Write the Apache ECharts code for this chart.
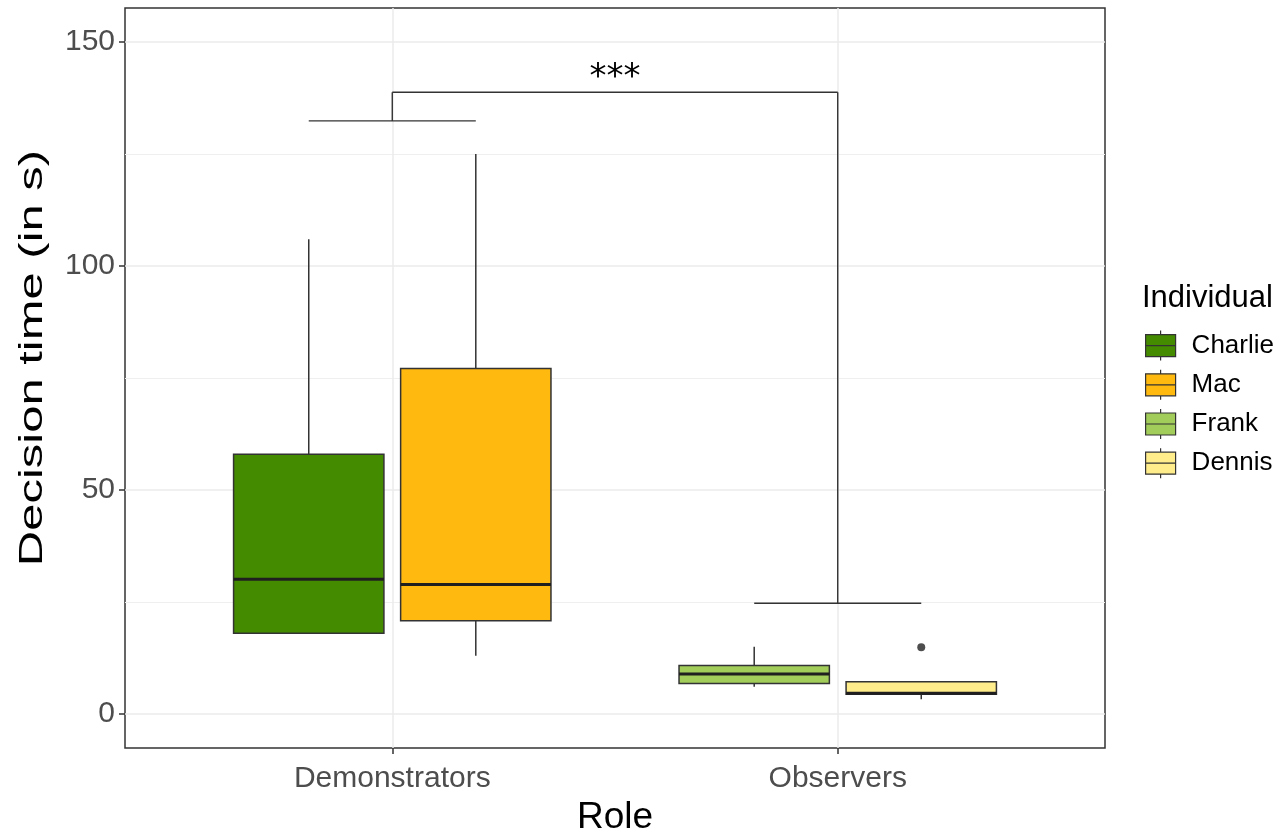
<!DOCTYPE html>
<html>
<head>
<meta charset="utf-8">
<script src="https://cdn.jsdelivr.net/npm/echarts@6/dist/echarts.min.js"></script>
<style>
  html, body { margin: 0; padding: 0; background: #ffffff; }
  #chart { width: 1286px; height: 837px; }
</style>
</head>
<body>
<div id="chart"></div>
<script>
// Roles on the x axis and the individual observed in each
const roles = ['Demonstrators', 'Observers'];
const individuals = ['Charlie', 'Mac', 'Frank', 'Dennis'];
const individualRole = [0, 0, 1, 1];
const individualColors = ['#458B00', '#FFB90F', '#A2CD5A', '#FFEC8B'];

// Decision time summaries (s): [lower whisker, Q1, median, Q3, upper whisker]
const boxStats = [
  [18.0, 18.0, 30.1, 58.0, 106.0],
  [13.0, 20.8, 28.9, 77.1, 125.0],
  [6.1, 6.8, 8.9, 10.8, 15.0],
  [3.3, 4.4, 4.6, 7.2, 7.2]
];
// Points beyond the whiskers, per individual
const outliers = [[], [], [], [14.9]];

// Significance bracket between the two roles
const bracketFeet = [132.4, 24.7];
const bracketTop = 138.8;
const significanceLabel = '***';

// Y axis ticks
const yMajorTicks = [0, 50, 100, 150];
const yMinorTicks = [25, 75, 125];
const yTitle = 'Decision time (in s)';

// Dodge layout (in x-axis units): two individuals share each role slot
const DODGE = 0.75;
const BOX_WIDTH = DODGE / 2 * 0.9;

function slotOffset(idx) {
  const role = individualRole[idx];
  const members = individualRole.map((r, i) => r === role ? i : -1).filter(i => i >= 0);
  const k = members.indexOf(idx);
  const n = members.length;
  return -DODGE / 2 + DODGE / n * (k + 0.5);
}
function xPos(idx) { return individualRole[idx] + 1 + slotOffset(idx); }

const FONT = "'Liberation Sans', Arial, sans-serif";
const INK = '#333333';

const boxSeries = individuals.map((name, idx) => ({
  name: name,
  type: 'custom',
  itemStyle: { color: individualColors[idx], borderColor: INK },
  encode: { x: 0, y: [1, 2, 3, 4, 5] },
  data: [[individualRole[idx] + 1].concat(boxStats[idx])],
  renderItem: function (params, api) {
    const xc = api.value(0) + slotOffset(idx);
    const half = api.size([BOX_WIDTH, 0])[0] / 2;
    const lo = api.coord([xc, api.value(1)]);
    const q1 = api.coord([xc, api.value(2)]);
    const md = api.coord([xc, api.value(3)]);
    const q3 = api.coord([xc, api.value(4)]);
    const hi = api.coord([xc, api.value(5)]);
    const cx = q1[0];
    return {
      type: 'group',
      children: [
        { type: 'line', shape: { x1: cx, y1: q3[1], x2: cx, y2: hi[1] },
          style: { stroke: INK, lineWidth: 1.5 } },
        { type: 'line', shape: { x1: cx, y1: lo[1], x2: cx, y2: q1[1] },
          style: { stroke: INK, lineWidth: 1.5 } },
        { type: 'rect', shape: { x: cx - half, y: q3[1], width: half * 2, height: q1[1] - q3[1] },
          style: { fill: individualColors[idx], stroke: INK, lineWidth: 1.5 } },
        { type: 'line', shape: { x1: cx - half, y1: md[1], x2: cx + half, y2: md[1] },
          style: { stroke: '#1f1f1f', lineWidth: 3 } }
      ]
    };
  }
}));

const outlierData = [];
outliers.forEach((vals, idx) => vals.forEach(v => outlierData.push([xPos(idx), v])));

const bracketSeries = {
  name: 'significance',
  type: 'custom',
  silent: true,
  encode: { x: [0, 1], y: [2, 3, 4] },
  data: [[1, 2, bracketFeet[0], bracketFeet[1], bracketTop]],
  renderItem: function (params, api) {
    const children = [];
    const top = api.value(4);
    [0, 1].forEach(r => {
      const xr = api.value(r);
      const foot = api.value(2 + r);
      const members = individualRole.map((ro, i) => ro === r ? i : -1).filter(i => i >= 0);
      const a = api.coord([xPos(members[0]), foot]);
      const b = api.coord([xPos(members[members.length - 1]), foot]);
      const c = api.coord([xr, foot]);
      const d = api.coord([xr, top]);
      children.push({ type: 'line', shape: { x1: a[0], y1: a[1], x2: b[0], y2: b[1] },
        style: { stroke: INK, lineWidth: 1.4 } });
      children.push({ type: 'line', shape: { x1: c[0], y1: c[1], x2: d[0], y2: d[1] },
        style: { stroke: INK, lineWidth: 1.4 } });
    });
    const l = api.coord([api.value(0), top]);
    const r = api.coord([api.value(1), top]);
    children.push({ type: 'line', shape: { x1: l[0], y1: l[1], x2: r[0], y2: r[1] },
      style: { stroke: INK, lineWidth: 1.4 } });
    children.push({ type: 'text', x: (l[0] + r[0]) / 2, y: l[1] - 14,
      style: { text: significanceLabel, fill: '#000000', font: "34px 'DejaVu Sans', sans-serif",
        align: 'center', verticalAlign: 'middle' } });
    return { type: 'group', children: children };
  }
};

const chart = echarts.init(document.getElementById('chart'), null, { renderer: 'canvas' });
chart.setOption({
  backgroundColor: '#ffffff',
  animation: false,
  textStyle: { fontFamily: FONT },
  title: {
    text: 'Individual',
    left: 1142, top: 283,
    padding: 0,
    textStyle: { fontFamily: FONT, fontSize: 31, fontWeight: 'normal', color: '#000000' }
  },
  // y-axis title, stretched along its reading direction
  graphic: [{
    type: 'text',
    x: 33, y: 358,
    rotation: Math.PI / 2,
    scaleX: 1.44, scaleY: 1,
    style: { text: yTitle, font: "34px 'Liberation Sans', Arial, sans-serif", fill: '#000000',
      align: 'center', verticalAlign: 'middle' }
  }],
  legend: {
    data: individuals,
    orient: 'vertical',
    left: 1145, top: 330,
    padding: 0,
    itemWidth: 30, itemHeight: 30, itemGap: 8,
    selectedMode: false,
    icon: 'path://M15,0 V4 M0,4 H30 V26 H0 Z M0,15 H30 M15,26 V30',
    itemStyle: { borderColor: INK, borderWidth: 1.2 },
    textStyle: { fontFamily: FONT, fontSize: 26, color: '#000000', padding: [0, 0, 0, 11] }
  },
  grid: {
    left: 125, top: 8, width: 980, height: 740,
    outerBoundsMode: 'none',
    show: true, borderColor: INK, borderWidth: 1.5, backgroundColor: '#ffffff'
  },
  xAxis: {
    type: 'value', min: 0.4, max: 2.6,
    name: 'Role', nameLocation: 'middle', nameGap: 50,
    nameTextStyle: { fontFamily: FONT, fontSize: 37, color: '#000000' },
    axisLine: { show: false, onZero: false },
    axisTick: { show: true, length: 6, customValues: [1, 2], lineStyle: { color: INK, width: 1.5 } },
    axisLabel: { customValues: [1, 2], formatter: v => roles[Math.round(v) - 1], margin: 16,
      fontFamily: FONT, fontSize: 30, color: '#4D4D4D' },
    splitLine: { show: true, lineStyle: { color: '#EBEBEB', width: 1.5 } }
  },
  yAxis: [{
    type: 'value', min: -7.6, max: 157.6,
    axisLine: { show: false, onZero: false },
    axisTick: { show: true, length: 6, customValues: yMajorTicks, lineStyle: { color: INK, width: 1.5 } },
    axisLabel: { customValues: yMajorTicks, margin: 10, fontFamily: FONT, fontSize: 30, color: '#4D4D4D' },
    splitLine: { show: true, lineStyle: { color: '#EBEBEB', width: 1.5 } }
  }, {
    type: 'value', min: -7.6, max: 157.6, position: 'left',
    axisLine: { show: false, onZero: false },
    axisTick: { show: false, customValues: yMinorTicks },
    axisLabel: { show: false, customValues: yMinorTicks },
    splitLine: { show: true, lineStyle: { color: '#EFEFEF', width: 1 } }
  }],
  series: boxSeries.concat([
    {
      name: 'outliers', type: 'scatter', symbol: 'circle', symbolSize: 8,
      itemStyle: { color: '#222222' }, silent: true,
      data: outlierData
    },
    bracketSeries
  ])
});
</script>
</body>
</html>
